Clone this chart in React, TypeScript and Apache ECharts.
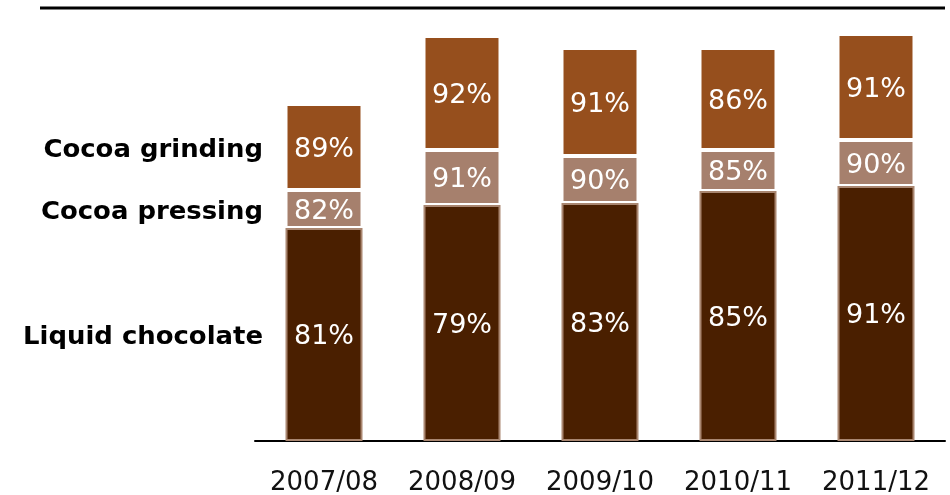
import React, { useEffect, useRef } from "react";
import * as echarts from "echarts";

const categories = ["2007/08", "2008/09", "2009/10", "2010/11", "2011/12"];
const liquidVolume = [213, 236, 238, 250, 255];
const pressingVolume = [38, 55, 47, 41, 46];
const grindingVolume = [86, 114, 108, 102, 106];
const liquidPct = [81, 79, 83, 85, 91];
const pressingPct = [82, 91, 90, 85, 90];
const grindingPct = [89, 92, 91, 86, 91];
const rowLabels = ["Cocoa grinding", "Cocoa pressing", "Liquid chocolate"];

export default function App() {
  const ref = useRef<HTMLDivElement>(null);
  useEffect(() => {
    if (!ref.current) return;
    const chart = echarts.init(ref.current, undefined, { renderer: "svg" });
    const label = (pcts: number[]) => ({
      show: true,
      position: "inside" as const,
      color: "#ffffff",
      fontFamily: "DejaVu Sans",
      fontSize: 27,
      formatter: (p: any) => pcts[p.dataIndex] + "%",
    });
    const rowY = [149, 211, 336];
    chart.setOption({
      animation: false,
      grid: { left: 255, right: 5, top: 21, bottom: 54 },
      xAxis: {
        type: "category",
        data: categories,
        axisLine: { lineStyle: { color: "#000000", width: 2 } },
        axisTick: { show: false },
        axisLabel: {
          color: "#111111",
          fontFamily: "DejaVu Sans",
          fontSize: 26,
          margin: 27,
          interval: 0,
          hideOverlap: false,
        },
      },
      yAxis: { type: "value", min: 0, max: 420, show: false, splitLine: { show: false } },
      series: [
        {
          name: "Liquid chocolate",
          type: "bar",
          stack: "total",
          barWidth: 77,
          data: liquidVolume,
          itemStyle: { color: "#4A1F00", borderColor: "#A98670", borderWidth: 2 },
          label: label(liquidPct),
        },
        {
          name: "Cocoa pressing",
          type: "bar",
          stack: "total",
          data: pressingVolume,
          itemStyle: { color: "#A6806D", borderColor: "#ffffff", borderWidth: 2 },
          label: label(pressingPct),
        },
        {
          name: "Cocoa grinding",
          type: "bar",
          stack: "total",
          data: grindingVolume,
          itemStyle: { color: "#964F1D", borderColor: "#ffffff", borderWidth: 2 },
          label: label(grindingPct),
        },
      ],
      graphic: [
        {
          type: "line",
          shape: { x1: 40, y1: 8, x2: 945, y2: 8 },
          style: { stroke: "#000000", lineWidth: 3 },
        },
        ...rowLabels.map((t, i) => ({
          type: "text",
          x: 263,
          y: rowY[i],
          scaleX: 1.08,
          style: {
            text: t,
            align: "right",
            verticalAlign: "middle",
            fill: "#000000",
            font: "bold 24px 'DejaVu Sans'",
          },
        })),
      ],
    });
    return () => chart.dispose();
  }, []);
  return (
    <div
      ref={ref}
      style={{ position: "fixed", left: 0, top: 0, width: 950, height: 495 }}
    />
  );
}
